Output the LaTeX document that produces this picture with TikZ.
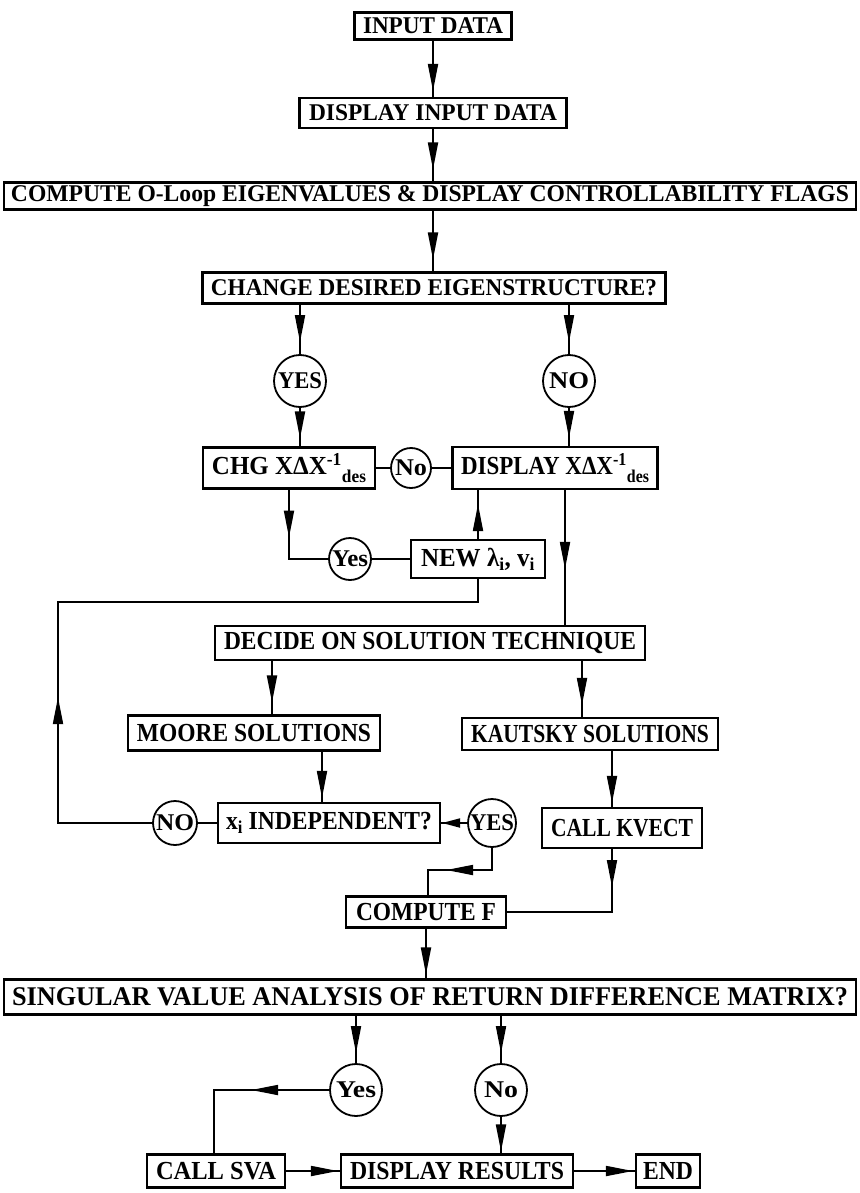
\documentclass[tikz,border=0pt]{standalone}
\usepackage{fontspec}
\setmainfont{Liberation Serif}
\usetikzlibrary{arrows.meta,decorations.markings,calc}
% squeeze a text horizontally to a given width (in pt), keeping its height
\newcommand{\sq}[2]{\resizebox{#1pt}{\height}{#2}}
\newcommand{\des}{\raisebox{-0.6ex}{\fontsize{18}{18}\selectfont des}}
\tikzset{
  box/.style={draw, line width=2.1pt, inner sep=0pt,
    font=\bfseries\fontsize{24}{24}\selectfont},
  bigbox/.style={box, font=\bfseries\fontsize{26}{26}\selectfont},
  circ/.style={draw, circle, line width=1.8pt, inner sep=0pt,
    font=\bfseries\fontsize{24}{24}\selectfont},
  ln/.style={line width=1.8pt},
  tipat/.style={postaction={decorate}, decoration={markings,
    mark=at position #1 with {\arrow{Triangle[length=27pt,width=10pt]}}}},
  shorttip/.style={postaction={decorate}, decoration={markings,
    mark=at position #1 with {\arrow{Triangle[length=18pt,width=9pt]}}}}
}
\begin{document}
\begin{tikzpicture}[x=1pt,y=-1pt]
\fill[white] (0,0) rectangle (859,1193);
\useasboundingbox (0,0) rectangle (859,1193);

% ---- boxes ----
\node[box, minimum width=157pt, minimum height=27pt] (in) at (433,26) {\sq{140}{INPUT DATA}};
\node[box, minimum width=267pt, minimum height=30pt] (dind) at (433,113) {\sq{248}{DISPLAY INPUT DATA}};
\node[box, minimum width=852pt, minimum height=27pt] (comp) at (430,196)
  {\sq{838}{COMPUTE O-Loop EIGENVALUES \& DISPLAY CONTROLLABILITY FLAGS}};
\node[box, minimum width=463pt, minimum height=31pt] (change) at (434,288)
  {\sq{446}{CHANGE DESIRED EIGENSTRUCTURE?}};

\node[circ, minimum size=52pt] (yes1) at (300,381) {\sq{44}{YES}};
\node[circ, minimum size=52pt] (no1) at (569,381) {\sq{40}{NO}};

\node[bigbox, minimum width=172pt, minimum height=41pt] (chgx) at (289,468)
  {\sq{154}{CHG XΔX\textsuperscript{-1}\des}};
\node[circ, minimum size=40pt] (no2) at (411,468) {\sq{32}{No}};
\node[bigbox, minimum width=205pt, minimum height=42pt] (dispx) at (555,468)
  {\sq{188}{DISPLAY XΔX\textsuperscript{-1}\des}};

\node[circ, minimum size=42pt] (yes2) at (350,559) {\sq{36}{Yes}};
\node[bigbox, minimum width=134pt, minimum height=38pt] (newl) at (478,559)
  {\sq{114}{NEW λ\textsubscript{i}, v\textsubscript{i}}};

\node[bigbox, minimum width=430pt, minimum height=34pt] (decide) at (430,643)
  {\sq{412}{DECIDE ON SOLUTION TECHNIQUE}};
\node[bigbox, minimum width=252pt, minimum height=35pt] (moore) at (254,733)
  {\sq{234}{MOORE SOLUTIONS}};
\node[bigbox, minimum width=256pt, minimum height=32pt] (kaut) at (590,734)
  {\sq{238}{KAUTSKY SOLUTIONS}};

\node[bigbox, minimum width=222pt, minimum height=40pt] (xind) at (329,823)
  {\sq{206}{x\textsubscript{i} INDEPENDENT?}};
\node[circ, minimum size=44pt] (no3) at (175,823) {\sq{38}{NO}};
\node[circ, minimum size=48pt] (yes3) at (492,823) {\sq{44}{YES}};
\node[bigbox, minimum width=160pt, minimum height=40pt] (kvect) at (622,828)
  {\sq{142}{CALL KVECT}};

\node[bigbox, minimum width=160pt, minimum height=31pt] (compf) at (426,912)
  {\sq{140}{COMPUTE F}};
\node[box, minimum width=852pt, minimum height=35pt, font=\bfseries\fontsize{27}{27}\selectfont] (sing) at (430,997)
  {\sq{836}{SINGULAR VALUE ANALYSIS OF RETURN DIFFERENCE MATRIX?}};

\node[circ, minimum size=52pt] (yes4) at (356,1090) {\sq{40}{Yes}};
\node[circ, minimum size=52pt] (no4) at (501,1090) {\sq{34}{No}};

\node[bigbox, minimum width=138pt, minimum height=33pt] (sva) at (216,1171) {\sq{120}{CALL SVA}};
\node[bigbox, minimum width=232pt, minimum height=33pt] (disr) at (457,1171) {\sq{214}{DISPLAY RESULTS}};
\node[bigbox, minimum width=64pt, minimum height=33pt] (endn) at (668,1171) {\sq{50}{END}};

% ---- guide positions for vertical connectors ----
\coordinate (gA) at (565,0);
\coordinate (gB) at (272,0);
\coordinate (gC) at (582,0);
\coordinate (gD) at (322,0);
\coordinate (gE) at (612,0);
\coordinate (gF) at (428,0);
\coordinate (gL) at (58,602);
\coordinate (gJ) at (0,870);
\coordinate (gS) at (214,0);
\coordinate (gT) at (433,0);

% ---- connectors ----
\draw[ln, tipat=-6pt] (in) -- (dind);
\draw[ln, tipat=-12pt] (gT |- dind.south) -- (gT |- comp.north);
\draw[ln, tipat=-12pt] (gT |- comp.south) -- (gT |- change.north);
\draw[ln, tipat=-12pt] (yes1 |- change.south) -- (yes1);
\draw[ln, tipat=-8pt] (yes1) -- (yes1 |- chgx.north);
\draw[ln, tipat=-12pt] (no1 |- change.south) -- (no1);
\draw[ln, tipat=-8pt] (no1) -- (no1 |- dispx.north);

\draw[ln] (chgx) -- (no2) -- (dispx);
\draw[ln, tipat=48pt] (chgx.south) |- (yes2);
\draw[ln] (yes2) -- (newl);
\draw[ln, tipat=-14pt] (newl.north) -- (newl.north |- dispx.south);
\draw[ln, tipat=-56pt] (gA |- dispx.south) -- (gA |- decide.north);

\draw[ln, tipat=220pt] (no3) -| (gL) -| (newl.south);

\draw[ln, tipat=-12pt] (gB |- decide.south) -- (gB |- moore.north);
\draw[ln, tipat=-12pt] (gC |- decide.south) -- (gC |- kaut.north);
\draw[ln, tipat=-4pt] (gD |- moore.south) -- (gD |- xind.north);
\draw[ln, tipat=-4pt] (gE |- kaut.south) -- (gE |- kvect.north);

\draw[ln] (no3) -- (xind);
\draw[ln, shorttip=-1pt] (yes3) -- (xind);
\draw[ln, tipat=68pt] (yes3.south) |- (gF |- gJ) -- (gF |- compf.north);
\draw[ln, tipat=38pt] (gE |- kvect.south) |- (compf.east);

\draw[ln, tipat=-4pt] (compf) -- (compf |- sing.north);
\draw[ln, tipat=-10pt] (yes4 |- sing.south) -- (yes4);
\draw[ln, tipat=-10pt] (no4 |- sing.south) -- (no4);
\draw[ln, tipat=78pt] (yes4) -| (gS |- sva.north);
\draw[ln, tipat=-2pt] (no4) -- (no4 |- disr.north);
\draw[ln, tipat=-2pt] (sva) -- (disr);
\draw[ln, tipat=-2pt] (disr) -- (endn);
\end{tikzpicture}
\end{document}
